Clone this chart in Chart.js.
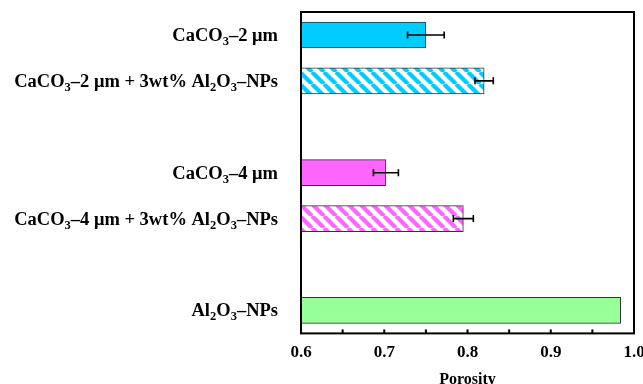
<!DOCTYPE html>
<html>
<head>
<meta charset="utf-8">
<script src="https://cdn.jsdelivr.net/npm/chart.js@4/dist/chart.umd.min.js"></script>
<style>
  html, body { margin: 0; padding: 0; background: #fff; }
  #wrap { width: 643px; height: 384px; }
</style>
</head>
<body>
<div id="wrap"><canvas id="porosityChart"></canvas></div>
<script>
// categories (empty strings are the gaps between groups)
const labels = [
  'CaCO₃–2 μm',
  'CaCO₃–2 μm + 3wt% Al₂O₃–NPs',
  '',
  'CaCO₃–4 μm',
  'CaCO₃–4 μm + 3wt% Al₂O₃–NPs',
  '',
  'Al₂O₃–NPs'
];
const porosity = [0.75, 0.82, null, 0.702, 0.795, null, 0.984];
const porosityErr = [0.022, 0.011, null, 0.015, 0.012, null, 0];
const xTicks = [0.6, 0.7, 0.8, 0.9, 1.0];

const SERIF = '"Liberation Serif", "Times New Roman", serif';

function hatch(color) {
  const s = 12;
  const c = document.createElement('canvas');
  c.width = s; c.height = s;
  const g = c.getContext('2d');
  g.fillStyle = '#fff';
  g.fillRect(0, 0, s, s);
  g.strokeStyle = color;
  g.lineWidth = 4.2;
  for (let k = -1; k <= 1; k++) {
    g.beginPath();
    g.moveTo(k * s, 0);
    g.lineTo(k * s + s, s);
    g.stroke();
  }
  return g.createPattern(c, 'repeat');
}

const cyan = '#00ccff';
const pink = '#ff66ff';
const green = '#99ff99';
const fills = [cyan, hatch(cyan), null, pink, hatch(pink), null, green];

// label text with unicode subscripts drawn as small lowered digits
const subMap = { '₂': '2', '₃': '3' };
function drawRich(ctx, text, right, y) {
  const big = 'bold 18.5px ' + SERIF;
  const small = 'bold 12.5px ' + SERIF;
  const runs = [];
  for (const ch of text) {
    const sub = ch in subMap;
    const last = runs[runs.length - 1];
    if (last && last.sub === sub) last.t += sub ? subMap[ch] : ch;
    else runs.push({ sub: sub, t: sub ? subMap[ch] : ch });
  }
  let w = 0;
  runs.forEach(r => { ctx.font = r.sub ? small : big; r.w = ctx.measureText(r.t).width; w += r.w; });
  let x = right - w;
  ctx.fillStyle = '#000';
  ctx.textAlign = 'left';
  ctx.textBaseline = 'alphabetic';
  runs.forEach(r => {
    ctx.font = r.sub ? small : big;
    ctx.fillText(r.t, x, y + 6 + (r.sub ? 4 : 0));
    x += r.w;
  });
}

const extras = {
  id: 'extras',
  afterDatasetsDraw(chart) {
    const ctx = chart.ctx;
    const xs = chart.scales.x, ys = chart.scales.y;
    const a = chart.chartArea;
    ctx.save();
    // error bars
    ctx.strokeStyle = '#000';
    ctx.lineWidth = 1.6;
    porosity.forEach((v, i) => {
      const e = porosityErr[i];
      if (v == null || !e) return;
      const y = ys.getPixelForValue(i);
      const x1 = xs.getPixelForValue(v - e), x2 = xs.getPixelForValue(v + e);
      ctx.beginPath();
      ctx.moveTo(x1, y); ctx.lineTo(x2, y);
      ctx.moveTo(x1, y - 3.5); ctx.lineTo(x1, y + 3.5);
      ctx.moveTo(x2, y - 3.5); ctx.lineTo(x2, y + 3.5);
      ctx.stroke();
    });
    // frame
    ctx.lineWidth = 2;
    ctx.strokeRect(a.left, a.top, a.right - a.left, a.bottom - a.top);
    // inward ticks on the bottom
    for (let k = 1; k < 8; k++) {
      const x = xs.getPixelForValue(0.6 + k * 0.05);
      ctx.beginPath();
      ctx.moveTo(x, a.bottom); ctx.lineTo(x, a.bottom - 4);
      ctx.stroke();
    }
    // category labels
    labels.forEach((t, i) => { if (t) drawRich(ctx, t, 278, ys.getPixelForValue(i)); });
    ctx.restore();
  }
};

new Chart('porosityChart', {
  type: 'bar',
  data: {
    labels: labels,
    datasets: [{
      label: 'Porosity',
      data: porosity,
      backgroundColor: fills,
      borderColor: '#333',
      borderWidth: 1,
      borderSkipped: false,
      barThickness: 26
    }]
  },
  options: {
    indexAxis: 'y',
    responsive: true,
    maintainAspectRatio: false,
    animation: false,
    layout: { padding: { left: 301, right: 9, top: 12, bottom: -5 } },
    plugins: { legend: { display: false }, tooltip: { enabled: false } },
    scales: {
      x: {
        min: 0.6,
        max: 1.0,
        afterBuildTicks: s => { s.ticks = xTicks.map(v => ({ value: v })); },
        afterFit: s => { s.paddingLeft = 0; s.paddingRight = 0; },
        ticks: {
          color: '#000',
          padding: 9,
          maxRotation: 0,
          font: { family: SERIF, size: 17, weight: 'bold' },
          callback: v => v.toFixed(1)
        },
        grid: { display: false, drawTicks: false },
        border: { display: false },
        title: {
          display: true,
          text: 'Porosity',
          color: '#000',
          padding: { top: -2, bottom: 0 },
          font: { family: SERIF, size: 16, weight: 'bold' }
        }
      },
      y: { display: false }
    }
  },
  plugins: [extras]
});
</script>
</body>
</html>
